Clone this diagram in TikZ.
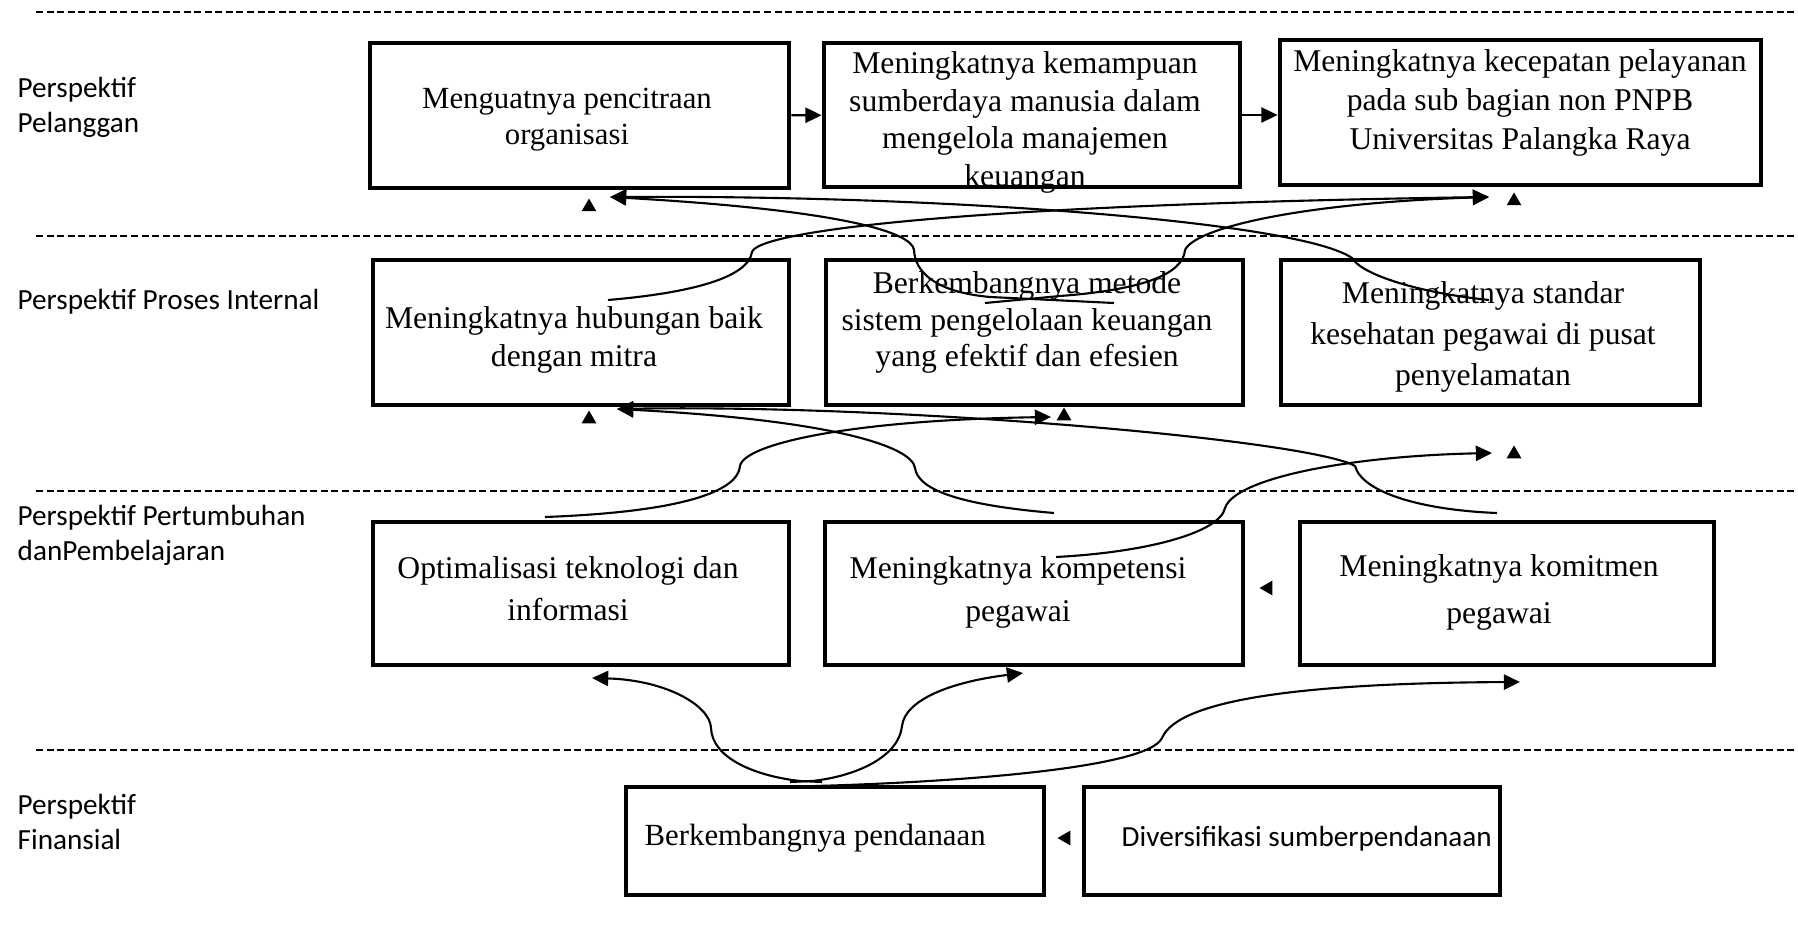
\documentclass[tikz,border=0pt]{standalone}
\usepackage{fontspec}
\newfontfamily\timesfont{Liberation Serif}
\newfontfamily\calibrifont{Carlito}
\usetikzlibrary{arrows.meta,shapes.geometric}

\begin{document}
\begin{tikzpicture}[x=0.01cm,y=-0.01cm]
\tikzstyle{kotak}=[rectangle,draw,line width=1.3pt,inner sep=0pt,minimum width=4.17cm,minimum height=1.45cm]
\tikzstyle{isi}=[align=center,inner sep=0pt,anchor=north,font=\fontsize{9}{10.7}\selectfont\timesfont]
\tikzstyle{judul}=[align=left,inner sep=0pt,anchor=north west,font=\fontsize{8.3}{9.7}\selectfont\calibrifont]
\tikzstyle{batas}=[line width=0.4pt,dash pattern=on 2pt off 1pt]
\tikzstyle{panah}=[line width=0.6pt,-{Triangle[length=4.6pt,width=4.3pt]}]
\tikzstyle{segitiga}=[regular polygon,regular polygon sides=3,fill,inner sep=0pt,minimum size=0.17cm]
\useasboundingbox (0,0) rectangle (1798,940);

\draw[batas] (36,12) -- (1798,12);
\draw[batas] (36,236) -- (1798,236);
\draw[batas] (36,491) -- (1798,491);
\draw[batas] (36,750) -- (1798,750);

\node [judul] (l1) at (17,77) {Perspektif\\Pelanggan};
\node [judul,anchor=base west] (l2) at (17,310) {Perspektif Proses Internal};
\node [judul] (l3) at (17,505) {Perspektif Pertumbuhan\\danPembelajaran};
\node [judul] (l4) at (17,794) {Perspektif\\Finansial};

\node [kotak,minimum width=4.19cm] (b1) at (579.5,115.5) {};
\node [kotak,minimum width=4.16cm,minimum height=1.44cm] (b2) at (1032,115) {};
\node [kotak,minimum width=4.81cm] (b3) at (1520.5,112.5) {};
\node [kotak,minimum width=4.16cm] (b4) at (581,332.5) {};
\node [kotak] (b5) at (1034.5,332.5) {};
\node [kotak,minimum width=4.19cm] (b6) at (1490.5,332.5) {};
\node [kotak,minimum width=4.16cm,minimum height=1.43cm] (b7) at (581,593.5) {};
\node [kotak,minimum width=4.18cm,minimum height=1.43cm] (b8) at (1034,593.5) {};
\node [kotak,minimum width=4.14cm,minimum height=1.43cm] (b9) at (1507,593.5) {};
\node [kotak,minimum width=4.18cm,minimum height=1.08cm] (b10) at (835,841) {};
\node [kotak,minimum width=4.16cm,minimum height=1.08cm] (b11) at (1292,841) {};

\node [isi,font=\fontsize{8.75}{10.5}\selectfont\timesfont] (t1) at (567,87) {Menguatnya pencitraan\\organisasi};
\node [isi] (t2) at (1025,51) {Meningkatnya kemampuan\\sumberdaya manusia dalam\\mengelola manajemen\\keuangan};
\node [isi,font=\fontsize{9}{11}\selectfont\timesfont] (t3) at (1520,49) {Meningkatnya kecepatan pelayanan\\pada sub bagian non PNPB\\Universitas Palangka Raya};
\node [isi] (t4) at (574,306) {Meningkatnya hubungan baik\\dengan mitra};
\node [isi,font=\fontsize{9}{10.4}\selectfont\timesfont] (t5) at (1027,271) {Berkembangnya metode\\sistem pengelolaan keuangan\\yang efektif dan efesien};
\node [isi,font=\fontsize{9}{11.7}\selectfont\timesfont] (t6) at (1483,281) {Meningkatnya standar\\kesehatan pegawai di pusat\\penyelamatan};
\node [isi,font=\fontsize{9}{12}\selectfont\timesfont] (t7) at (568,556) {Optimalisasi teknologi dan\\informasi};
\node [isi,font=\fontsize{9}{12.2}\selectfont\timesfont] (t8) at (1018,556) {Meningkatnya kompetensi\\pegawai};
\node [isi,font=\fontsize{9}{13.4}\selectfont\timesfont] (t9) at (1499,554) {Meningkatnya komitmen\\pegawai};
\node [isi,anchor=base west,font=\fontsize{8.75}{10.5}\selectfont\timesfont] (t10) at (644,845) {Berkembangnya pendanaan};
\node [isi,anchor=base west,font=\fontsize{8.3}{9.7}\selectfont\calibrifont] (t11) at (1121,846) {Diversifikasi sumberpendanaan};

\coordinate (u1) at (610,197);
\coordinate (u3) at (1489,197);
\coordinate (u4) at (617,409);
\coordinate (u5) at (1051,417);
\coordinate (u6) at (1492,453);
\coordinate (u7) at (592,678);
\coordinate (u8) at (1023,673);
\coordinate (u9) at (1520,682);
\coordinate (a4) at (608,300);
\coordinate (a5) at (985,303);
\coordinate (a5b) at (1114,303);
\coordinate (a6) at (1489,300);
\coordinate (a7) at (545,517);
\coordinate (a8) at (1056,557);
\coordinate (a8b) at (1054,513);
\coordinate (a9) at (1497,513);
\coordinate (a10) at (822,782);
\coordinate (a10b) at (790,782);
\coordinate (a10c) at (815,786);

\draw[panah] (b1) -- (b2);
\draw[panah] (b2.east) -- (b2.east -| b3.west);

\draw[panah] (a5b) -- (990,297) .. controls (935,292) and (915,272) .. (914,250) .. controls (912,232) and (840,210) .. (u1);
\draw[panah] (a6) .. controls (1420,293) and (1362,275) .. (1352,258) .. controls (1300,222) and (950,195) .. (u1);
\draw[panah] (a4) .. controls (690,293) and (748,278) .. (752,252) .. controls (758,232) and (950,205) .. (u3);
\draw[panah] (a5) -- (1060,296) .. controls (1140,290) and (1183,275) .. (1185,250) .. controls (1195,228) and (1300,203) .. (u3);

\draw[panah] (a8b) .. controls (960,505) and (918,490) .. (915,468) .. controls (912,446) and (830,420) .. (u4);
\draw[panah] (a9) .. controls (1420,510) and (1362,492) .. (1355,466) .. controls (1310,440) and (900,404) .. (u4);
\draw[panah] (a7) .. controls (680,512) and (738,492) .. (740,466) .. controls (744,444) and (850,420) .. (u5);
\draw[panah] (a8) .. controls (1150,552) and (1220,532) .. (1225,508) .. controls (1235,478) and (1350,456) .. (u6);

\draw[panah] (a10) -- (800,781) .. controls (755,776) and (712,758) .. (711,728) .. controls (710,705) and (665,680) .. (u7);
\draw[panah] (a10b) -- (812,781) .. controls (858,776) and (899,756) .. (902,726) .. controls (905,700) and (950,682) .. (u8);
\draw[panah] (a10c) .. controls (960,782) and (1148,768) .. (1162,738) .. controls (1178,700) and (1300,683) .. (u9);

\node [segitiga] (s1) at (589,207) {};
\node [segitiga] (s2) at (1514,201) {};
\node [segitiga] (s3) at (589,419) {};
\node [segitiga] (s4) at (1064,416) {};
\node [segitiga] (s5) at (1514,454) {};
\node [segitiga,rotate=90] (s6) at (1268,588) {};
\node [segitiga,rotate=90] (s7) at (1066,838) {};
\end{tikzpicture}
\end{document}
